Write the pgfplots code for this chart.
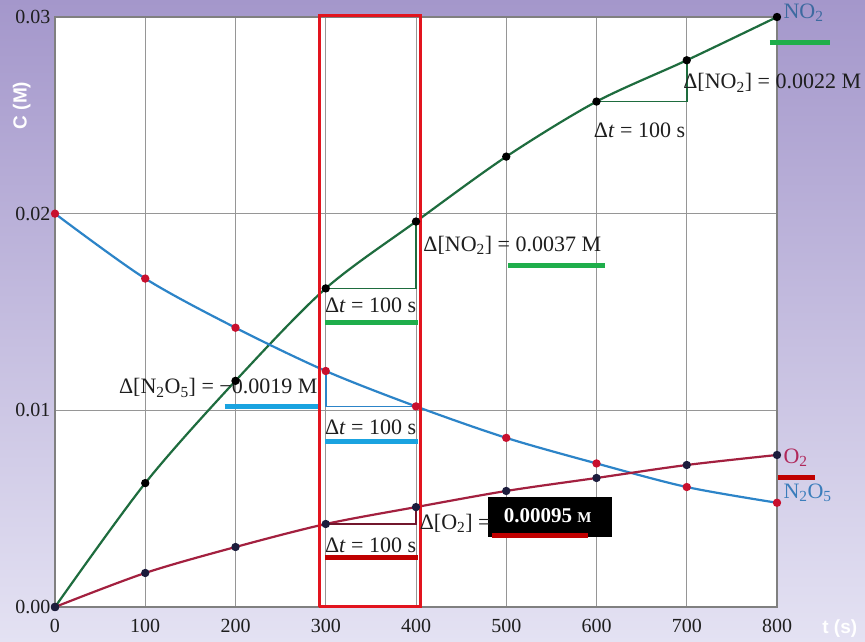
\documentclass[border=0pt]{standalone}
\usepackage{fontspec}
\setmainfont{Liberation Serif}
\newfontfamily\sansfnt{Liberation Sans}
\usepackage{pgfplots}
\pgfplotsset{compat=1.18}

\definecolor{bgtop}{RGB}{164,151,203}
\definecolor{bgbot}{RGB}{228,226,243}
\definecolor{no2line}{RGB}{30,108,62}
\definecolor{n2o5line}{RGB}{44,132,200}
\definecolor{o2line}{RGB}{163,32,63}
\definecolor{ugreen}{RGB}{31,174,75}
\definecolor{ublue}{RGB}{26,163,224}
\definecolor{ured}{RGB}{192,0,0}
\definecolor{boxred}{RGB}{226,20,30}
\definecolor{lblno2}{RGB}{61,106,160}
\definecolor{lblo2}{RGB}{176,40,90}
\definecolor{lbln2o5}{RGB}{59,125,187}
\definecolor{dotred}{RGB}{200,16,46}
\definecolor{dotnavy}{RGB}{28,28,60}
\definecolor{gridgray}{RGB}{150,150,150}
\definecolor{txt}{RGB}{30,30,30}

\newcommand{\ann}{\fontsize{22}{22}\selectfont}

\begin{document}
\begin{tikzpicture}[x=1pt,y=1pt]
\useasboundingbox (0,0) rectangle (865,642);
\shade[top color=bgtop,bottom color=bgbot] (0,0) rectangle (865,642);
\begin{axis}[
  at={(55pt,35pt)}, anchor=south west,
  scale only axis, width=722pt, height=590pt,
  xmin=0, xmax=800, ymin=0, ymax=0.03,
  xtick={0,100,...,800}, ytick={0,0.01,0.02,0.03},
  scaled y ticks=false,
  /pgf/number format/assume math mode=true,
  yticklabel style={xshift=-1pt, /pgf/number format/.cd, fixed, fixed zerofill, precision=2},
  ticklabel style={font=\fontsize{20}{20}\selectfont, text=txt},
  xticklabel style={yshift=-9pt},
  major tick length=0pt,
  grid=major,
  grid style={gridgray, line width=1pt},
  axis line style={gray, line width=1.3pt},
  axis background/.style={fill=white},
  clip=false,
  ylabel={C (M)},
  ylabel style={at={(axis description cs:-0.046,0.85)}, anchor=center, text=white, font=\sansfnt\bfseries\fontsize{19}{19}\selectfont},
  xlabel={t (s)},
  xlabel style={at={(axis description cs:1.087,-0.036)}, anchor=center, text=white, font=\sansfnt\bfseries\fontsize{19}{19}\selectfont},
]
% curves
\addplot[no2line, line width=2.2pt, smooth, mark=*, mark size=3pt, mark options={fill=black, draw=black}]
coordinates {(0,0) (100,0.0063) (200,0.0115) (300,0.0162) (400,0.0196) (500,0.0229) (600,0.0257) (700,0.0278) (800,0.0300)};
\addplot[n2o5line, line width=2.2pt, smooth, mark=*, mark size=3pt, mark options={fill=dotred, draw=dotred}]
coordinates {(0,0.0200) (100,0.0167) (200,0.0142) (300,0.0120) (400,0.0102) (500,0.0086) (600,0.0073) (700,0.0061) (800,0.0053)};
\addplot[o2line, line width=2.2pt, smooth, mark=*, mark size=3pt, mark options={fill=dotnavy, draw=dotnavy}]
coordinates {(0,0) (100,0.00173) (200,0.00305) (300,0.00422) (400,0.00508) (500,0.0059) (600,0.00656) (700,0.00722) (800,0.00773)};
% triangles
\addplot[no2line, line width=1.6pt] coordinates {(300,0.0162) (400,0.0162) (400,0.0196)};
\addplot[no2line, line width=1.6pt] coordinates {(600,0.0257) (700,0.0257) (700,0.0278)};
\addplot[n2o5line, line width=1.6pt] coordinates {(300,0.0120) (300,0.0102) (400,0.0102)};
\addplot[o2line!70!black, line width=1.6pt] coordinates {(300,0.00422) (400,0.00422) (400,0.00508)};
% red rectangle
\addplot[boxred, line width=3pt] coordinates {(292.6,0) (404.8,0) (404.8,0.0301) (292.6,0.0301) (292.6,0)};
% underlines
\draw[ugreen, line width=5pt] (axis cs:502,0.01734) -- (axis cs:609,0.01734);
\draw[ugreen, line width=5pt] (axis cs:299,0.01449) -- (axis cs:402,0.01449);
\draw[ugreen, line width=5pt] (axis cs:792,0.02868) -- (axis cs:859,0.02868);
\draw[ublue, line width=5pt] (axis cs:188,0.01017) -- (axis cs:291,0.01017);
\draw[ublue, line width=5pt] (axis cs:299,0.00844) -- (axis cs:402,0.00844);
\draw[ured, line width=5pt] (axis cs:299,0.00254) -- (axis cs:402,0.00254);
\draw[ured, line width=5pt] (axis cs:801,0.00656) -- (axis cs:842,0.00656);
% black box
\fill[black] (axis cs:480,0.00356) rectangle (axis cs:617,0.00559);
\draw[ured, line width=5pt] (axis cs:484,0.00366) -- (axis cs:591,0.00366);
\node[text=white, font=\bfseries\fontsize{21}{21}\selectfont] at (axis cs:546,0.00464) {0.00095 {\fontsize{15}{15}\selectfont M}};
% annotation texts
\node[anchor=west, text=txt, font=\ann, inner sep=0pt] at (axis cs:696,0.02665) {Δ[NO\textsubscript{2}] = 0.0022 M};
\node[anchor=west, text=txt, font=\ann, inner sep=0pt] at (axis cs:597,0.02426) {Δ\textit{t} = 100 s};
\node[anchor=west, text=txt, font=\ann, inner sep=0pt] at (axis cs:408,0.01841) {Δ[NO\textsubscript{2}] = 0.0037 M};
\node[anchor=west, text=txt, font=\ann, inner sep=0pt] at (axis cs:299,0.01536) {Δ\textit{t} = 100 s};
\node[anchor=east, text=txt, font=\ann, inner sep=0pt] at (axis cs:291,0.01114) {Δ[N\textsubscript{2}O\textsubscript{5}] = −0.0019 M};
\node[anchor=west, text=txt, font=\ann, inner sep=0pt] at (axis cs:299,0.00915) {Δ\textit{t} = 100 s};
\node[anchor=west, text=txt, font=\ann, inner sep=0pt] at (axis cs:404,0.00427) {Δ[O\textsubscript{2}] =};
\node[anchor=west, text=txt, font=\ann, inner sep=0pt] at (axis cs:299,0.00315) {Δ\textit{t} = 100 s};
% series labels
\node[anchor=west, text=lblno2, font=\ann, inner sep=0pt] at (axis cs:807,0.03020) {NO\textsubscript{2}};
\node[anchor=west, text=lblo2, font=\ann, inner sep=0pt] at (axis cs:807,0.00758) {O\textsubscript{2}};
\node[anchor=west, text=lbln2o5, font=\ann, inner sep=0pt] at (axis cs:807,0.0058) {N\textsubscript{2}O\textsubscript{5}};
\end{axis}
\end{tikzpicture}
\end{document}
